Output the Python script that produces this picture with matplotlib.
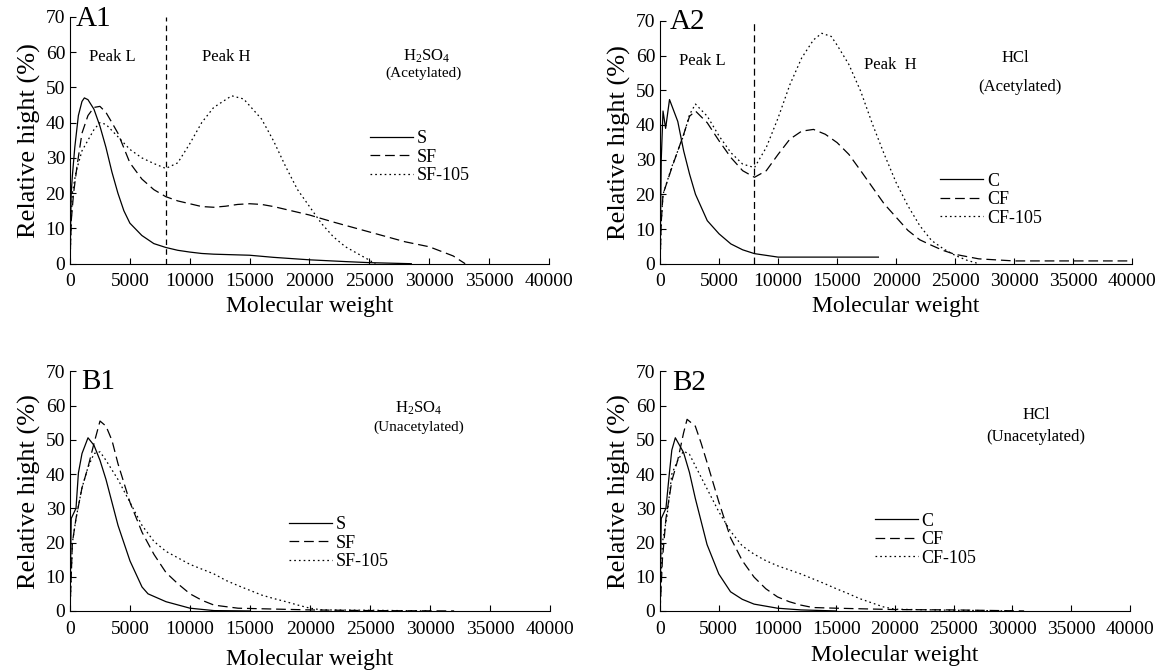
"""Molecular weight distributions, four panels (A1, A2, B1, B2)."""
import matplotlib
matplotlib.use("Agg")
import matplotlib.pyplot as plt

plt.rcParams["font.family"] = ["Liberation Serif", "DejaVu Serif"]
plt.rcParams["mathtext.fontset"] = "custom"
plt.rcParams["mathtext.rm"] = "Liberation Serif"
plt.rcParams["lines.scale_dashes"] = False

DIVIDER_MW = 8000

# ---- A1: H2SO4, acetylated ----
a1_s_x = [0, 100, 200, 400, 700, 1000, 1200, 1500, 2000, 2500, 3000, 3500, 4000, 4500, 5000,
          6000, 7000, 8000, 9000, 10000, 11000, 12000, 15000, 17000, 20000, 23000, 25000, 28500]
a1_s_y = [0, 20, 25, 33, 42, 46, 47, 46.5, 43.8, 39, 33, 26, 20, 15, 11.5,
          8, 5.7, 4.6, 3.8, 3.3, 2.9, 2.7, 2.4, 1.8, 1.1, 0.6, 0.3, 0]
a1_sf_x = [0, 100, 300, 600, 1000, 1500, 2000, 2500, 3000, 3500, 4000, 5000, 6000, 7000, 8000,
           9000, 10000, 11000, 12000, 13000, 14000, 15000, 16000, 17000, 18000, 20000, 22000,
           25000, 28000, 30000, 32000, 33000]
a1_sf_y = [0, 12, 20, 28, 37, 42, 44.3, 44.6, 42.9, 40, 37, 28.6, 24, 21, 19,
           17.8, 17, 16.2, 16, 16.3, 16.8, 17, 16.8, 16.2, 15.4, 13.8, 11.8,
           9, 6.2, 4.8, 2.2, 0]
a1_sf105_x = [0, 100, 200, 500, 1000, 1500, 2000, 2500, 3000, 4000, 5000, 6000, 7000, 8000,
              9000, 10000, 11000, 12000, 13500, 14500, 15000, 16000, 17000, 18000, 19000,
              20000, 21000, 22000, 23000, 24000, 25000, 25500]
a1_sf105_y = [0, 12, 20, 26, 32, 35, 38, 40, 39.5, 36, 32.4, 30, 28.4, 27,
              28.6, 34, 40, 44.3, 47.6, 46.7, 44.8, 41, 34.8, 27.6, 21,
              16.2, 11.4, 7.6, 4.8, 2.9, 1, 0]

# ---- A2: HCl, acetylated ----
a2_c_x = [0, 100, 250, 470, 800, 1500, 2000, 2500, 3000, 4000, 5000, 6000, 7000, 8000,
          10000, 18500]
a2_c_y = [0, 30, 44, 39, 47.3, 41, 32.5, 25.8, 20, 12.4, 8.6, 5.7, 4, 2.9,
          1.9, 1.9]
a2_cf_x = [0, 100, 250, 1000, 2000, 2500, 3000, 4000, 5000, 6000, 7000, 8000, 9000, 10000,
           11000, 12000, 13000, 14000, 15000, 16000, 17000, 18000, 19000, 20000, 21000,
           22000, 23000, 24000, 25000, 27000, 30000, 40000]
a2_cf_y = [0, 12, 20, 27.7, 37.3, 42.5, 44, 40.6, 35.4, 30.6, 26.8, 24.9, 26.8, 31.5,
           35.9, 38.2, 38.7, 37.3, 34.9, 31.5, 26.8, 22, 17.2, 13.4, 9.6,
           6.9, 5.3, 3.8, 2.7, 1.4, 0.8, 0.8]
a2_cf105_x = [0, 100, 250, 1000, 2000, 2500, 3000, 4000, 5000, 6000, 7000, 8000, 9000, 10000,
              11000, 12000, 13000, 13700, 14500, 15000, 16000, 17000, 18000, 19000, 20000,
              21000, 22000, 23000, 24000, 25000, 26000, 27000]
a2_cf105_y = [0, 12, 20, 28, 37, 43, 46, 42.5, 36.8, 32, 28.7, 27.7, 33.5, 42,
              51.6, 59.3, 64.5, 66.4, 65.5, 63, 57.4, 49.7, 40.2, 31.5, 23.4,
              16.7, 11, 6.7, 4.3, 2.4, 1, 0]

# ---- B1: H2SO4, unacetylated ----
b1_s_x = [0, 100, 500, 700, 1000, 1500, 2000, 2500, 3000, 4000, 5000, 6000, 6500, 8000,
          10000, 12000, 15000]
b1_s_y = [0, 27, 30, 40.3, 46, 50.6, 48.4, 44, 38.4, 25, 14.6, 7, 5, 2.7,
          0.8, 0.1, 0]
b1_sf_x = [0, 200, 500, 1000, 1500, 2000, 2500, 3000, 3500, 4000, 5000, 6000, 7000, 8000,
           9000, 10000, 11000, 12000, 14000, 20000, 25000, 32000]
b1_sf_y = [0, 20, 27, 36, 42, 49, 55.5, 54, 49.8, 43, 31.7, 23, 16.5, 11.2,
           7.9, 5, 3.1, 1.7, 0.8, 0.3, 0.1, 0]
b1_sf105_x = [0, 200, 500, 1000, 1500, 2000, 2500, 3000, 4000, 5000, 6000, 7000, 8000, 9000,
              10000, 11000, 12000, 13000, 14000, 15000, 16000, 17000, 18000, 19000, 20000,
              21000, 25000, 30000]
b1_sf105_y = [0, 20, 27, 36, 42, 46, 46.5, 44, 38.4, 31.7, 25, 20.3, 17.4, 15.5,
              13.6, 12.2, 10.8, 8.9, 7.4, 6, 4.6, 3.6, 2.7, 1.7, 0.8,
              0.3, 0.2, 0]

# ---- B2: HCl, unacetylated ----
b2_c_x = [0, 100, 500, 800, 1000, 1300, 2000, 2500, 3000, 4000, 5000, 6000, 7000, 8000,
          10000, 12000, 15000]
b2_c_y = [0, 27, 30, 40.5, 47, 50.6, 46.3, 40.5, 32.9, 19.4, 10.8, 5.6, 3.4, 2,
          0.8, 0.3, 0]
b2_cf_x = [0, 200, 500, 1000, 1500, 2000, 2300, 3000, 3500, 4000, 5000, 6000, 7000, 8000,
           9000, 10000, 11000, 12000, 13000, 15000, 20000, 25000, 31000]
b2_cf_y = [0, 15, 27, 38, 44, 52, 56, 54, 49, 43.4, 31.9, 21.4, 14.7, 9.9,
           6.5, 4.1, 2.7, 1.7, 1, 0.8, 0.4, 0.3, 0]
b2_cf105_x = [0, 200, 600, 1000, 1500, 2000, 2500, 3000, 4000, 5000, 6000, 7000, 8000, 9000,
              10000, 11000, 12000, 13000, 14000, 15000, 16000, 17000, 18000, 19000, 20000,
              25000, 30000]
b2_cf105_y = [0, 20, 28, 40, 44, 46.7, 45.8, 42.4, 35.7, 29, 23.3, 19, 16.6, 14.7,
              13.2, 12, 10.8, 9.4, 8, 6.5, 5.1, 3.6, 2.4, 1.2, 0.5,
              0.2, 0]

x_ticks = [0, 5000, 10000, 15000, 20000, 25000, 30000, 35000, 40000]
y_ticks = [0, 10, 20, 30, 40, 50, 60, 70]

SOLID = dict(color="black", lw=0.9, ls="-")
DASH = dict(color="black", lw=0.9, dashes=(7, 3.5))
DOT = dict(color="black", lw=0.9, dashes=(1.2, 2.2))

fig = plt.figure(figsize=(11.57, 6.71), dpi=100)


def panel(rect, series, tag, tag_xy, legend_xy, xlab_pad):
    ax = fig.add_axes(rect)
    for (x, y, label), style in zip(series, (SOLID, DASH, DOT)):
        ax.plot(x, y, label=label, **style)
    ax.set_xlim(0, 40000)
    ax.set_ylim(0, 70)
    ax.set_xticks(x_ticks)
    ax.set_yticks(y_ticks)
    ax.spines[["top", "right"]].set_visible(False)
    ax.tick_params(direction="in", length=4, width=0.8, labelsize=14)
    ax.tick_params(axis="x", pad=7)
    ax.set_xlabel("Molecular weight", fontsize=17, labelpad=xlab_pad)
    ax.set_ylabel("Relative hight (%)", fontsize=19, labelpad=3)
    ax.text(tag_xy[0], tag_xy[1], tag, transform=ax.transAxes, fontsize=21,
            ha="left", va="top")
    ax.legend(loc="upper left", bbox_to_anchor=legend_xy, frameon=False,
              fontsize=13, handlelength=2.4, handletextpad=0.2,
              labelspacing=0.08, borderpad=0, borderaxespad=0)
    return ax


ax = panel([0.0605, 0.607, 0.414, 0.368],
           [(a1_s_x, a1_s_y, "S"), (a1_sf_x, a1_sf_y, "SF"), (a1_sf105_x, a1_sf105_y, "SF-105")],
           "A1", (0.012, 1.045), (0.626, 0.54), 4)
ax.axvline(DIVIDER_MW, color="black", lw=0.9, dashes=(4, 3))
ax.text(0.088, 0.838, "Peak L", transform=ax.transAxes, fontsize=12, ha="center", va="center")
ax.text(0.326, 0.838, "Peak H", transform=ax.transAxes, fontsize=12, ha="center", va="center")
ax.text(0.745, 0.838, r"$\mathregular{H_2SO_4}$", transform=ax.transAxes, fontsize=12,
        ha="center", va="center")
ax.text(0.739, 0.773, "(Acetylated)", transform=ax.transAxes, fontsize=11,
        ha="center", va="center")

ax = panel([0.5705, 0.607, 0.408, 0.362],
           [(a2_c_x, a2_c_y, "C"), (a2_cf_x, a2_cf_y, "CF"), (a2_cf105_x, a2_cf105_y, "CF-105")],
           "A2", (0.02, 1.05), (0.593, 0.375), 4)
ax.axvline(DIVIDER_MW, color="black", lw=0.9, dashes=(5, 3))
ax.text(0.09, 0.835, "Peak L", transform=ax.transAxes, fontsize=12, ha="center", va="center")
ax.text(0.487, 0.82, "Peak  H", transform=ax.transAxes, fontsize=12, ha="center", va="center")
ax.text(0.752, 0.847, "HCl", transform=ax.transAxes, fontsize=12, ha="center", va="center")
ax.text(0.763, 0.727, "(Acetylated)", transform=ax.transAxes, fontsize=12,
        ha="center", va="center")

ax = panel([0.0605, 0.0895, 0.415, 0.357],
           [(b1_s_x, b1_s_y, "S"), (b1_sf_x, b1_sf_y, "SF"), (b1_sf105_x, b1_sf105_y, "SF-105")],
           "B1", (0.023, 1.01), (0.456, 0.395), 8)
ax.text(0.727, 0.845, r"$\mathregular{H_2SO_4}$", transform=ax.transAxes, fontsize=12,
        ha="center", va="center")
ax.text(0.727, 0.766, "(Unacetylated)", transform=ax.transAxes, fontsize=11,
        ha="center", va="center")

ax = panel([0.5705, 0.0895, 0.406, 0.357],
           [(b2_c_x, b2_c_y, "C"), (b2_cf_x, b2_cf_y, "CF"), (b2_cf105_x, b2_cf105_y, "CF-105")],
           "B2", (0.026, 1.005), (0.457, 0.41), 5)
ax.text(0.80, 0.816, "HCl", transform=ax.transAxes, fontsize=12, ha="center", va="center")
ax.text(0.80, 0.728, "(Unacetylated)", transform=ax.transAxes, fontsize=12,
        ha="center", va="center")

plt.savefig("out.png", dpi=100)
print("Saved: out.png")
